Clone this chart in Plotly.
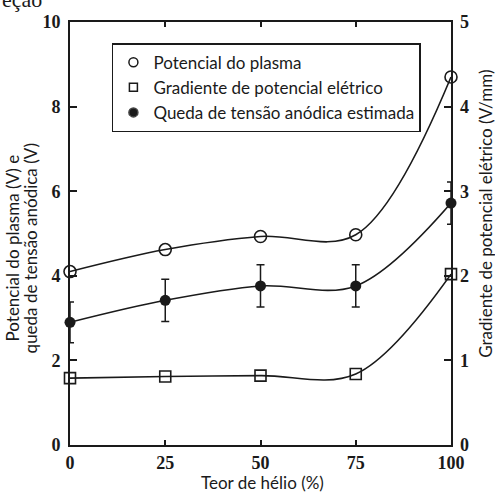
import plotly.graph_objects as go

# Teor de hélio (%)
helio = [0, 25, 50, 75, 100]

# Potencial do plasma (V) - eixo esquerdo
potencial_plasma = [4.1, 4.62, 4.93, 4.97, 8.7]

# Queda de tensão anódica estimada (V) - eixo esquerdo, com barras de erro
queda_tensao = [2.9, 3.42, 3.76, 3.76, 5.72]
queda_erro = [0.48, 0.5, 0.5, 0.5, 0.5]

# Gradiente de potencial elétrico (V/mm) - eixo direito
gradiente = [0.79, 0.81, 0.82, 0.84, 2.02]

x_ticks = [0, 25, 50, 75, 100]
y_ticks = [0, 2, 4, 6, 8, 10]
y2_ticks = [0, 1, 2, 3, 4, 5]

INK = "#1a1a1a"
SANS = "Lato"
SERIF = "Liberation Serif"
TITLE_SIZE = 17

fig = go.Figure()

# Curvas com marcadores
fig.add_trace(go.Scatter(
    x=helio, y=potencial_plasma, mode="lines+markers", line_shape="spline",
    line=dict(color=INK, width=1.6),
    marker=dict(symbol="circle-open", size=12, color=INK, line=dict(width=1.6)),
    showlegend=False, cliponaxis=False,
))
fig.add_trace(go.Scatter(
    x=helio, y=queda_tensao, mode="lines+markers", line_shape="spline",
    line=dict(color=INK, width=1.6),
    marker=dict(symbol="circle", size=11, color=INK),
    error_y=dict(type="data", array=queda_erro, visible=True, color=INK,
                 thickness=1.5, width=4),
    showlegend=False, cliponaxis=False,
))
fig.add_trace(go.Scatter(
    x=helio, y=gradiente, mode="lines+markers", line_shape="spline", yaxis="y2",
    line=dict(color=INK, width=1.6),
    marker=dict(symbol="square-open", size=11, color=INK, line=dict(width=1.6)),
    showlegend=False, cliponaxis=False,
))

# Entradas da legenda (apenas símbolos)
legend_items = [
    ("Potencial do plasma", "circle-open", 9),
    ("Gradiente de potencial elétrico", "square-open", 8),
    ("Queda de tensão anódica estimada", "circle", 9),
]
for name, sym, sz in legend_items:
    fig.add_trace(go.Scatter(
        x=[None], y=[None], mode="markers", name=name,
        marker=dict(symbol=sym, size=sz, color=INK, line=dict(width=1.5)),
    ))

tick_font = dict(family=SERIF, size=18, color=INK, weight="bold")
title_font = dict(family=SANS, size=TITLE_SIZE, color=INK)

fig.update_layout(
    width=495, height=494,
    margin=dict(l=70, r=44, t=19, b=49),
    paper_bgcolor="white", plot_bgcolor="white",
    showlegend=True,
    legend=dict(
        x=0.110, y=0.950, xanchor="left", yanchor="top",
        bgcolor="white", bordercolor=INK, borderwidth=1.5,
        font=dict(family=SANS, size=17, color=INK),
    ),
    xaxis=dict(
        range=[0, 100], tickvals=x_ticks, ticktext=[str(v) for v in x_ticks],
        showgrid=False, zeroline=False,
        showline=True, linecolor=INK, linewidth=2, mirror="ticks",
        ticks="inside", ticklen=5, tickwidth=1.5, tickcolor=INK,
        tickfont=tick_font,
    ),
    yaxis=dict(
        range=[0, 10], tickvals=y_ticks, ticktext=[str(v) for v in y_ticks],
        showgrid=False, zeroline=False,
        showline=True, linecolor=INK, linewidth=2, mirror="ticks",
        ticks="inside", ticklen=7, tickwidth=1.5, tickcolor=INK,
        tickfont=tick_font, ticklabelstandoff=4,
    ),
    yaxis2=dict(
        range=[0, 5], tickvals=y2_ticks, ticktext=[str(v) for v in y2_ticks],
        overlaying="y", side="right",
        showgrid=False, zeroline=False, showline=False,
        ticks="", tickfont=tick_font, ticklabelstandoff=8,
    ),
    annotations=[
        dict(text="Teor de hélio (%)", xref="paper", yref="paper",
             x=0.504, y=-0.0892, xanchor="center", yanchor="middle",
             showarrow=False, font=title_font),
        dict(text="Potencial do plasma (V) e",
             xref="paper", yref="paper", x=-0.1522, y=0.4648,
             xanchor="center", yanchor="middle", textangle=-90,
             showarrow=False, font=title_font),
        dict(text="queda de tensão anódica (V)",
             xref="paper", yref="paper", x=-0.1050, y=0.4648,
             xanchor="center", yanchor="middle", textangle=-90,
             showarrow=False, font=title_font),
        dict(text="Gradiente de potencial elétrico (V/mm)",
             xref="paper", yref="paper", x=1.0920, y=0.5469,
             xanchor="center", yanchor="middle", textangle=-90,
             showarrow=False, font=title_font),
        dict(text="eção", xref="paper", yref="paper",
             x=-0.1837, y=1.0188, xanchor="left", yanchor="bottom",
             showarrow=False, font=dict(family=SERIF, size=22, color=INK)),
    ],
)

fig.write_html("out.html")
